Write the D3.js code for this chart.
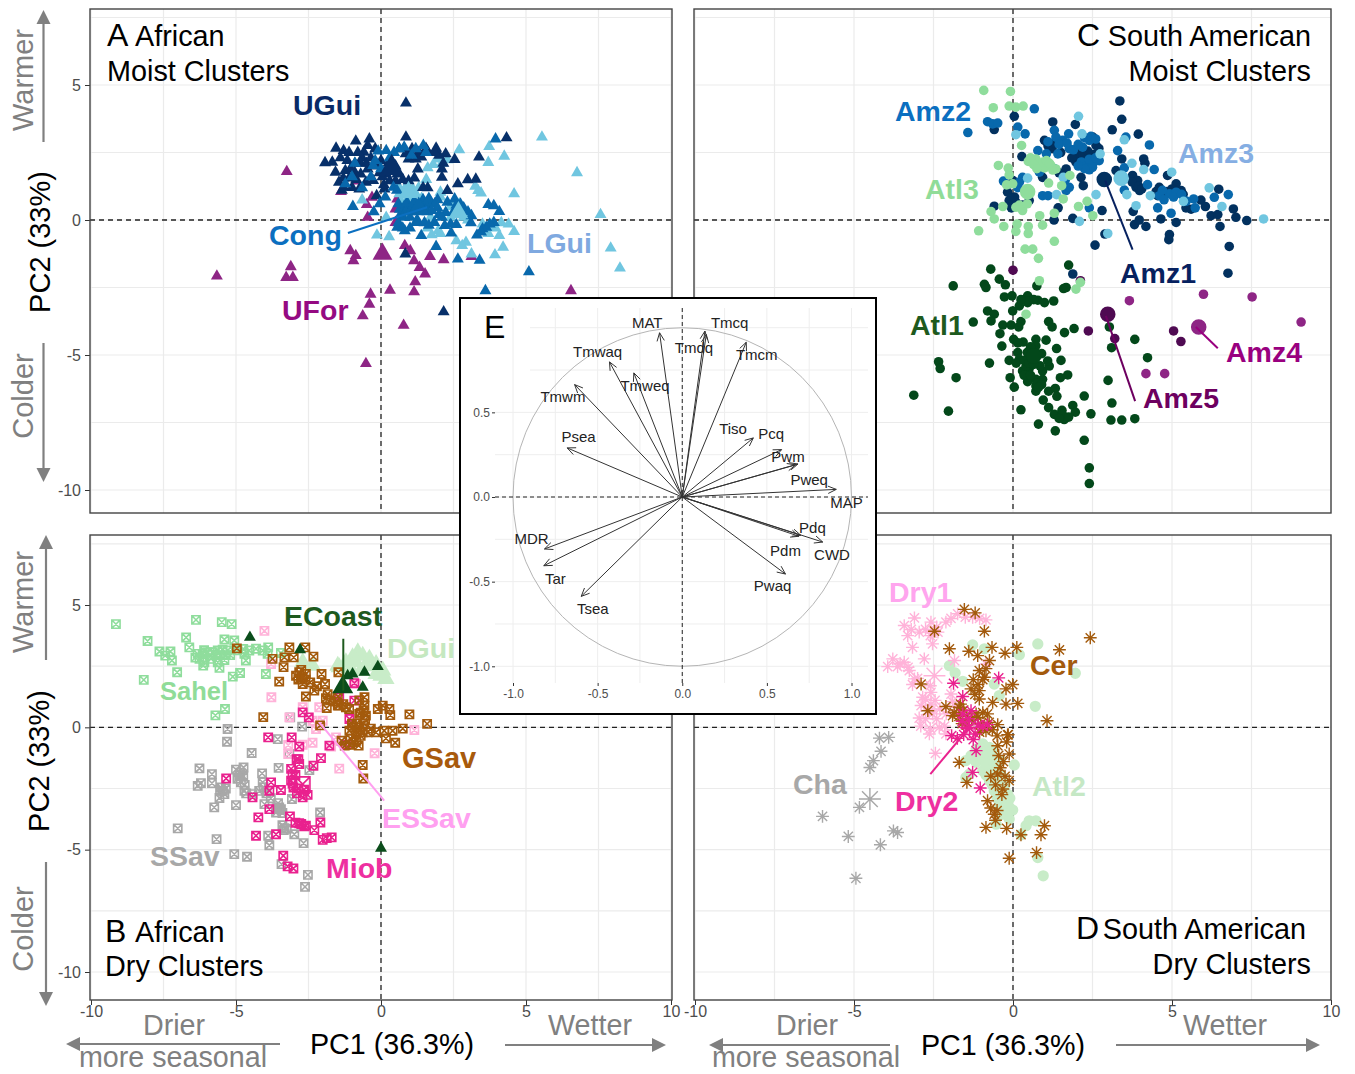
<!DOCTYPE html>
<html>
<head>
<meta charset="utf-8">
<title>PCA climate clusters</title>
<style>
  body { margin: 0; background: #fff; }
  svg { display: block; font-family: "Liberation Sans", Arial, sans-serif; }
  .tick text { fill: #4d4d4d; }
  .tick line { stroke: #333; }
</style>
</head>
<body>
<svg width="1355" height="1074"></svg>
<script src="https://d3js.org/d3.v7.min.js"></script>
<script>

// Panel A - African moist clusters (PC1, PC2)
const uFor = [[-3.25,1.79],[-.84,1.44],[-1.38,1.05],[-.31,.84],[-.49,.57],[-.46,.1],[.56,.78],[.5,.41],[.5,-.09],[1.27,-.09],[-1.06,-1.14],[-.87,-1.32],[-.95,-1.51],[.82,-.95],[1.01,-1.14],[1.14,-1.51],[1.33,-1.76],[1.52,-2],[1.69,-1.35],[2.16,-1.47],[3.12,-1.35],[1.18,-2.29],[1.14,-2.66],[.31,-2.6],[-.36,-2.75],[-.4,-3.12],[-.63,-3.55],[.78,-3.9],[-.52,-5.32],[-3.11,-1.73],[-3.27,-2.13],[-3.04,-2.13],[-5.66,-2.08],[6.55,-2.62]];
const lGui = [[5.55,3.07],[6.76,1.75],[7.57,.2],[7.92,-1.04],[8.24,-1.78],[4.59,.97],[4.25,2.36],[3.73,2.72],[3.7,2.13],[2.7,2.6],[3.35,1.09],[1.97,2.26],[2.29,2.23],[1.61,1.93],[1.56,1.5],[2.05,1.03],[-.14,-.56],[.28,-.62],[-.65,.74],[.18,.1],[4.08,-.58],[4.21,-1.01],[3.93,-1.29],[4.59,-.43],[4.4,-.15],[2.6,-.77],[2.93,-.83],[3.12,-1.26],[1.97,-.4],[1.71,.1],[3.5,-.15],[.95,.84],[1.2,.97],[.63,.97],[.8,1.1],[1.1,1.15],[2.45,.55],[2.85,.1],[3.8,-.2],[2.4,.5],[2.7,.6],[2.9,.3],[3,0],[2.4,.1],[.6,1.25],[.9,1.3],[1.3,1.2],[.7,.7],[1.4,.8],[1.7,.7],[2.05,.85],[1.6,-.3],[1.75,-.55],[2.05,-.5],[3.7,-.5],[3.95,-.3],[4.15,-.1],[2.8,-.95],[3.45,1],[3.25,1.25],[1.8,2.05],[2.1,2.1]];
const uGui = [[.86,4.33],[.86,3.07],[4.33,3.04],[-.87,2.92],[-.4,3],[-1.55,2.66],[-1.29,2.57],[-.46,2.76],[-.59,2.51],[-.2,2.64],[.63,2.64],[1.07,2.64],[1.9,2.66],[2.23,2.45],[2.54,2.24],[3.38,2.33],[-1.93,2.12],[-1.68,2.14],[-1.16,2.2],[-.65,2.3],[.95,2.26],[1.2,2.26],[1.39,2.33],[2.1,1.89],[1.27,1.89],[-1.57,1.77],[-1.23,1.83],[-.91,1.77],[-.46,1.89],[-.27,1.46],[-.52,1.4],[.18,1.7],[.56,1.7],[.75,1.5],[.95,1.45],[.05,1.6],[2.1,1.58],[2.65,1.34],[2.99,1.49],[3.27,1.51],[-1.29,1.21],[-1.35,1.1],[1.61,1.19],[2.29,1.09],[.12,1.15],[-.15,.9],[2.16,-3.4],[.84,-1.26],[-1.4,2.3],[-1.1,2.5],[-.8,2.5],[-.7,2.1],[-.9,2.1],[-1.05,1.9],[-1.3,1.55],[-1.1,1.55],[-.85,1.5],[-.7,1.7],[-.5,2.1],[-.35,2.3],[-.15,2],[0,2.2],[.25,2.1],[.5,2],[.1,1.3],[.3,1.45],[.5,1.45],[-.05,1.75],[1.05,2.45],[1.3,2.5],[1.6,2.55],[2,2.4],[2.15,2.1],[1.85,2.5],[1.45,1.2],[1.55,2.65],[.85,2.45],[1.15,1.55],[-1.45,1.4],[-1,1.2],[-.75,1.15]];
const cong = [[3.95,3],[3.6,-2.62],[5.1,-1.92],[-.1,2.55],[.18,2.57],[-.27,2.02],[-.2,2.2],[.63,2.64],[1.46,2.76],[1.2,2.64],[-.97,.5],[-1.23,1.34],[-.65,1.19],[.43,1.21],[.65,.4],[.8,.5],[.95,.45],[1.1,.55],[1.25,.5],[1.4,.6],[1.55,.55],[1.7,.65],[1.85,.6],[1.95,.45],[.7,.25],[.85,.3],[1,.3],[1.15,.35],[1.3,.3],[1.45,.35],[1.6,.3],[1.75,.35],[.75,.1],[1,.1],[2.54,.78],[2.29,.66],[2.74,.59],[2.23,.28],[3.12,.16],[3.7,.57],[3.89,.53],[4.08,.31],[3.89,-.09],[3.63,-.27],[3.5,-.33],[3.31,-.56],[2.42,-.48],[2.6,-.17],[2.2,-.21],[1.39,-.58],[1.9,-.98],[2.65,-1.45],[3.4,-1.49],[.82,-.4],[.56,-.27],[1.2,-.09],[1.84,-.09],[.6,-.1],[.75,-.3],[1,-.3],[1.25,0],[1.5,-.1],[1.65,-.2],[2,.2],[.6,.6],[.9,.65],[1.15,.7],[1.45,.75],[1.65,.8],[1.95,.75],[2.5,.3],[2.7,.3],[2.85,.45],[3,.3],[2.6,.55],[2.1,.1],[2.4,-.15],[3.1,-.1],[3.75,-.15],[3.45,-.45],[-.05,.6],[-.25,.3],[0,1.9],[.3,2.3],[.45,2.5],[1.05,2.4],[1.55,2.5],[.8,2.7],[-.9,2.1],[-.35,1.6],[-1,1.6],[.15,.85],[.55,1.1]];

// Panel B - African dry clusters
const sahel = [[-9.14,4.22],[-8.05,3.53],[-8.18,1.94],[-6.38,4.39],[-5.49,4.3],[-5.15,4.22],[-6.72,3.67],[-6.61,3.27],[-5.4,3.59],[-5.06,3.55],[-7.64,3.1],[-7.26,3.1],[-7.44,2.93],[-7.21,2.73],[-7.03,2.25],[-6.32,3],[-6.15,3],[-5.98,3.07],[-5.8,3.07],[-5.63,3.14],[-5.46,3.17],[-5.29,3.14],[-6.26,2.8],[-6.09,2.66],[-5.86,2.8],[-5.63,2.66],[-5.57,2.43],[-6.13,2.52],[-4.71,3],[-4.66,2.73],[-4.54,3.14],[-4.31,3.21],[-4.08,3.14],[-3.89,3.27],[-3.91,3],[-3.45,3.04],[-4.86,2.22],[-5.11,2.07],[-3.97,2.18],[-5.38,.75],[-5.71,.49],[-6.1,3.15],[-5.9,2.95],[-5.7,2.95],[-5.55,2.95],[-5.35,2.95],[-5.2,2.95],[-5.4,2.75],[-6.4,2.85],[-4.95,3.15],[-4.75,3.2]];
const dGui = [[-1.44,2.46],[-1.21,2.66],[-.98,2.86],[-.8,3.07],[-.63,2.93],[-.4,2.8],[-.17,2.59],[.06,2.32],[.17,1.98],[-.86,2.66],[-.52,2.5],[-.17,2.18],[-2.7,2.66],[-2.36,2.52],[-1.49,2.52],[0,2.11],[-1.05,2.4],[-.7,2.3]];
const sSav = [[-5.29,-.07],[-5.31,-.59],[-3.13,.41],[-2.72,.03],[-3.56,-.48],[-4.46,-1.05],[-6.26,-1.68],[-5.83,-1.91],[-5.83,-2.28],[-6.21,-2.28],[-6.32,-2.39],[-5,-1.73],[-4.74,-1.64],[-4.89,-1.98],[-4.83,-2.25],[-4.71,-2.59],[-4.1,-1.88],[-3.53,-1.66],[-2.47,-1.75],[-4.08,-2.25],[-5.52,-2.46],[-5.4,-2.73],[-5.57,-2.89],[-5.75,-3.27],[-5,-3.18],[-4.43,-2.73],[-4.02,-3.14],[-3.07,-2.93],[-3.51,-3.27],[-3.62,-3.48],[-3.33,-4.12],[-7.01,-4.13],[-5.67,-4.57],[-5.06,-5.18],[-4.62,-5.29],[-3.89,-4.43],[-3.85,-4.82],[-2.99,-4.37],[-2.67,-4.73],[-2.1,-3.48],[-3.43,-5.59],[-2.52,-6.03],[-2.62,-6.52],[-3.16,-1.09],[-4.85,-1.85],[-4.75,-2],[-4.95,-2.1],[-4.7,-2.35],[-4.65,-2.7],[-5.45,-2.6],[-5.35,-2.5],[-5.55,-2.6],[-3.55,-3.1],[-3.45,-3.35],[-3.4,-3.5],[-3.6,-3.3],[-3.4,-4],[-3.25,-4.15],[-3.35,-4.2],[-4.05,-2.45],[-3.95,-2.7],[-4.2,-2.6],[-3.8,-2.9]];
const eSSav = [[-4.02,3.94],[-3.79,2.59],[-3.78,1.23],[-2.7,.82],[-2.13,.82],[-2.01,.27],[-2.36,.27],[-3.16,.41],[-2.24,-.07],[-1.55,-.41],[-2.36,-.63],[-2.7,-.71],[-3.2,-.72],[-1.72,-.79],[1.15,-.11],[-.22,-1.06],[-1.44,-1.69],[-.86,1.77],[-3.2,-1.09]];
const miob = [[-3.89,-.41],[-3.08,-.41],[-2.7,.61],[-2.49,.41],[-1.09,.34],[-.92,1.09],[-.92,1.81],[-1.44,1.23],[-2.82,-.79],[-1.21,-.71],[-1.78,-.75],[-2.07,-1.26],[-2.33,-1.57],[-2.91,-1.3],[-2.82,-1.5],[-3.05,-1.91],[-3.1,-2.18],[-3.02,-2.46],[-3.45,-2.56],[-5.34,-2.09],[-3.79,-2.25],[-3.85,-2.59],[-4.43,-2.86],[-2.53,-2.76],[-2.7,-2.86],[-3.85,-3.34],[-3.14,-3.64],[-4.23,-3.68],[-2.82,-3.92],[-2.59,-4.02],[-2.3,-4.2],[-2.09,-3.89],[-4.31,-4.43],[-3.62,-4.37],[-2.01,-4.6],[-1.87,-4.53],[-1.7,-4.5],[-3.37,-5.25],[-3.22,-5.68],[-3.02,-5.77],[-3.1,-1.7],[-2.95,-1.95],[-3.05,-2.3],[-2.85,-2.5],[-2.9,-2.7],[-2.65,-2.55],[-2.85,-1.3],[-2.75,-3.95],[-2.95,-3.9],[-2.65,-4.05]];
const gSav = [[-4.97,3.23],[-3.16,3.27],[-2.61,3.27],[-3.74,2.8],[-3.33,2.86],[-3.01,2.86],[-2.33,2.89],[-3.36,2.46],[-3.51,1.87],[-2.82,2.25],[-2.93,2.11],[-2.76,1.98],[-2.59,2.18],[-2.7,1.77],[-2.05,2.18],[-1.47,2.25],[-2.44,1.84],[-2.21,1.68],[-1.93,1.77],[-2.59,1.26],[-1.84,1.36],[-1.9,1.19],[-1.87,.79],[-1.49,.89],[-1.49,1.26],[-1.21,.82],[-4.06,.42],[-.57,1.23],[-.57,.89],[-.52,.48],[-.75,.55],[.06,.89],[-.11,.75],[.29,.75],[.32,.5],[.98,.53],[1.59,.14],[.75,-.05],[.4,-.14],[.11,-.14],[-.17,-.2],[-.46,-.2],[-.98,0],[-.75,0],[-1.09,-.14],[-.86,-.27],[-.63,-.2],[.17,-.45],[.49,-.63],[-1.36,-.55],[-1.09,-.71],[-.77,-.75],[-.63,-1.54],[-.61,-2.09],[-2.1,.08],[-2.85,1.95],[-2.7,2.05],[-2.6,1.95],[-2.75,2.35],[-.75,1.1],[-.6,.7],[-.7,.6],[-.55,.3],[-.85,.15],[-.6,.15],[-1,.15],[-.7,-.35],[-.85,-.55],[-.95,-.6],[-1.25,-.75],[-1.05,-.45],[-.75,-.1],[-.35,-.05],[-1.45,.9],[-1.55,1.05],[-1.75,1.1],[-1.3,.95],[-1.1,.75],[-2.3,1.5]];
const eCoast = [[-4.52,3.68],[-2.79,3.17],[-.98,2.18],[-.57,2.25],[-.63,1.64],[-.11,2.48],[0,-4.94],[-1.15,2.11]];

// Panel C - South American moist clusters
const atl1 = [[-.7,-1.82],[-1.88,-2.44],[-.9,-2.38],[-.85,-2.5],[-.43,-2.19],[-.24,-2.4],[1.75,-1.67],[.75,-2.44],[1.59,-2.54],[1.67,-2.5],[-.27,-2.85],[-.03,-2.81],[-.01,-3.37],[.46,-2.81],[.2,-3.18],[.46,-3.06],[.78,-2.97],[.99,-3.06],[1.28,-3],[-.8,-3.37],[-.59,-3.49],[-.69,-3.74],[-1.25,-3.78],[-.32,-3.89],[-.06,-3.89],[.25,-3.76],[.18,-3.96],[1.12,-3.76],[1.23,-3.96],[1.62,-4.17],[1.92,-4.02],[3.03,-3.96],[-.41,-4.21],[-.35,-4.67],[.02,-4.42],[.32,-4.52],[.72,-4.42],[1.04,-4.45],[.72,-4.66],[1.37,-4.76],[3.1,-4.73],[3.83,-4.42],[4.23,-5.1],[1.51,-5.2],[.15,-4.91],[.2,-5.16],[-.12,-5.2],[-.74,-5.3],[-2.34,-5.25],[-2.29,-5.5],[-1.79,-5.84],[-3.12,-6.49],[-2.03,-7.08],[-.09,-5.84],[.3,-5.59],[.51,-5.5],[.93,-5.59],[1.14,-5.41],[1.09,-5.22],[1.72,-5.74],[1.49,-5.84],[.46,-5.99],[.72,-5.9],[.93,-5.9],[.04,-6.19],[.72,-6.34],[1.12,-6.34],[1.33,-6.24],[1.38,-6.53],[.95,-6.67],[2.24,-6.52],[2.99,-5.94],[3.11,-6.78],[.25,-7.03],[1.12,-6.95],[1.3,-7.2],[1.54,-7.05],[1.88,-6.87],[1.96,-7.12],[2.45,-7.18],[1.61,-7.39],[3.08,-7.41],[3.42,-7.41],[3.83,-7.36],[.8,-7.56],[1.33,-7.81],[2.24,-8.16],[2.4,-9.18],[2.4,-9.76],[.72,-6.15],[.41,-5.41],[.85,-6.05],[.1,-5.3],[.35,-5.2],[.5,-5.3],[.85,-5.4],[.35,-5.75],[.55,-5.75],[.75,-6.05],[.9,-6.1],[.15,-4.55],[.55,-4.7],[.45,-4.9],[.75,-5],[.9,-4.95],[.65,-5.35],[.8,-6.2],[1.55,-7.2],[1.45,-7.35],[1.75,-7.3],[.45,-3],[.25,-2.95],[.65,-2.95]];
const amz5 = [[0,-1.86],[2.12,-2.25],[2.37,-4.11],[5.05,-4.11],[5.28,-4.5],[3.2,-4.39]];
const amz4 = [[3.66,-2.99],[5.99,-2.75],[7.52,-2.85],[9.06,-3.78],[4.18,-5.69],[4.77,-5.69]];
const amz1 = [[3.36,4.41],[3.42,3.73],[1.96,3.54],[1.25,3.63],[.04,3.84],[-.59,3.35],[3.12,3.34],[3.94,3.18],[.99,2.95],[1.23,2.64],[2.51,3.07],[2.61,2.76],[2.56,2.43],[2.03,2.45],[1.98,2.14],[.28,2.35],[3.42,2.26],[4.11,2.26],[4.15,2.1],[1.67,1.89],[2.14,1.58],[2.21,1.27],[3.24,1.83],[3.76,1.65],[3.92,1.46],[3.87,1.21],[3.98,1.09],[4.6,1.21],[4.86,1.65],[5.13,1.34],[5.29,1.09],[5.91,.74],[6.47,1.14],[5.44,.45],[6.23,.16],[6.44,.2],[6.93,.41],[7.01,.1],[7.35,-.02],[6.51,-.24],[6.8,-.98],[6.76,-1.97],[2.58,-.93],[2.89,-.52],[2.8,.35],[1.88,.06],[1.29,0],[1.42,.45],[3.82,-.17],[3.97,0],[4.18,-.24],[4.65,.04],[5.13,-.09],[4.92,-.54],[4.9,-.73],[3.78,.32],[-.59,.51],[-.12,.72],[.09,.66],[.51,.72],[0,1.46],[-.17,1.03],[.93,1.58],[1.88,-2],[1.1,2.75],[1.3,2.85],[1.5,2.5],[1.85,2.3],[2.2,2.4],[2.35,2.55],[2.7,2.65],[4.85,1.05],[4.5,1.05],[4.7,.95],[5,1.15],[5.35,.95],[3.75,1.4],[3.95,1.25],[4.05,1.15],[5.6,.4],[6.05,.5],[-.05,.45],[.05,.85],[.3,.55],[4.55,.9],[1.7,1.7],[1.45,1.75]];
const amz2 = [[.67,4.12],[-1.42,3.24],[-.8,3.64],[-.64,3.56],[-.48,3.59],[.15,3.44],[.38,3.19],[.78,2.57],[1.3,3.32],[1.35,3.07],[1.75,3.19],[1.56,2.95],[1.77,2.64],[1.41,2.45],[2.4,2.95],[2.19,2.7],[2.3,2.08],[2.51,2.08],[2.4,1.86],[2.71,2.2],[3.29,2.57],[3.55,3.07],[4.29,2.78],[4.44,1.87],[3.5,1.93],[4.23,1.31],[3.5,1.11],[4.6,.9],[4.92,.97],[5.13,1.03],[4.55,.45],[4.97,.25],[5.68,.78],[5.73,.45],[6.33,.84],[6.77,.94],[2.4,.45],[.93,.9],[-.3,1.44],[.3,1.58],[.2,1.4],[.83,1.77],[1.67,1.09],[1.77,1.21],[1.1,2.9],[1.45,2.8],[1.7,2.85],[1.9,2.6],[2.05,2.8],[2.25,3.05],[2.45,3.1],[2.6,3],[2.15,2.15],[2.5,1.95],[2.25,1.9],[2.4,2.25],[2.6,2.3],[2.05,2],[1.05,2.45],[1.3,1.9],[1.1,.9],[1.65,1.5],[4.75,.75],[5.05,.85],[5.3,.95],[4.7,1.1],[5.45,.7],[.15,1.2]];
const amz3 = [[2.06,3.84],[2.17,3.19],[.09,3.16],[3.5,2.97],[2.74,2.45],[3.74,2.1],[4.11,1.87],[4.99,1.77],[4.32,.9],[3.58,.94],[2.61,.94],[3.87,.53],[5.36,.69],[6.17,1.19],[6.57,.5],[7.88,.04],[2.98,-.5],[2.09,-.05],[.46,1.55],[1.37,.94],[1.58,1.58]];
const atl3 = [[-.92,4.8],[-.08,4.76],[-.62,4.16],[-.12,4.22],[.09,4.18],[.32,4.22],[.27,2.76],[-.46,2.02],[-.15,1.92],[-.12,1.67],[.48,2.17],[.72,2.26],[.88,2.08],[1.19,2.02],[1.35,1.89],[.99,1.93],[1.79,1.65],[1.12,1.37],[1.53,1.27],[-.01,1.34],[1.58,.78],[-.32,.5],[-.69,.31],[-.59,.04],[-.29,-.24],[-1.08,-.4],[.13,-.15],[.09,-.42],[.48,-.24],[.48,-.5],[.3,.41],[.09,.47],[.84,.16],[.93,-.19],[1.3,.25],[2.06,.5],[2.33,.69],[2.51,.16],[1.3,-.79],[.38,-1.08],[.62,-1.08],[.8,-1.42],[.83,-2.25],[2.12,-2.31],[1.98,-2.56],[.41,-3.49],[.55,2.3],[.65,2.05],[.75,1.9],[.95,2.15],[1.05,2.2],[1.25,1.85],[1.15,2.1],[.3,.35],[.2,.55],[.45,.6],[-.2,1.3]];

// Panel D - South American dry clusters
const atl2 = [[-1.27,3.37],[-.9,3.21],[.78,3.41],[.2,2.97],[1.96,2.21],[-2,2.52],[-1.82,2.22],[-1.58,1.88],[-.59,1.77],[-.43,1.3],[.7,.86],[.04,-1.54],[-1.48,-1.36],[-1.32,-1.16],[-1.16,-.89],[-.95,-.68],[-.74,-.82],[-1.16,-1.43],[-.95,-1.36],[-.74,-1.23],[-.59,-1.09],[-.95,-1.77],[-.74,-1.7],[-.53,-1.57],[-.74,-2.18],[-.53,-2.18],[-.32,-2.05],[-.59,-2.59],[-.38,-2.73],[-.17,-2.73],[-.43,-3.14],[-.17,-3.07],[-.01,-3.38],[-.32,-3.55],[-.53,-3.96],[-.12,-3.75],[.51,-3.82],[.41,-4.02],[.72,-3.82],[.25,-4.39],[.78,-5.32],[.95,-6.07],[-1.48,-2.05],[-1.37,-1.91],[-1.2,-1.15],[-1,-1],[-.85,-1],[-.65,-.95],[-.85,-1.5],[-.6,-1.45],[-.4,-1.35],[-.85,-1.95],[-.6,-1.95],[-.4,-1.9],[-.65,-2.35],[-.45,-2.4],[-.25,-2.35],[-.5,-2.9],[-.3,-2.9],[-.1,-2.9],[-.35,-3.3],[-.1,-3.3],[-.45,-3.6],[-.2,-3.55]];
const cha = [[-4.2,-.44],[-3.91,-.41],[-4.15,-.98],[-4.39,-1.36],[-4.5,-1.64],[-4.83,-3.27],[-5.99,-3.64],[-5.18,-4.46],[-4.17,-4.8],[-3.76,-4.23],[-3.63,-4.3],[-4.94,-6.17]];
const dry1 = [[-3.1,4.47],[-3.42,4.16],[-3.31,3.75],[-2.95,3.89],[-2.58,4.3],[-2.36,3.89],[-2.53,3.41],[-3.16,3.27],[-2.79,2.8],[-2.11,4.3],[-1.74,4.64],[-1.27,4.5],[-.85,4.39],[-1.84,2.73],[-3.94,2.48],[-3.78,2.8],[-3.63,2.48],[-3.42,2.66],[-3.26,2.32],[-3.1,1.98],[-3.16,1.75],[-2.58,1.43],[-2.84,1.23],[-2.89,.89],[-2.95,.38],[-2.58,.95],[-2.53,.55],[-2.63,-.27],[-2.32,0],[-2.44,-1.06],[-2.11,-.27],[-1.95,1.36],[-.85,2.59],[-1.79,.82],[-3.55,2.6],[-3.3,2.45],[-3,2],[-2.6,1.7],[-2.75,1.15],[-2.65,.7],[-2.45,1.1],[-2.3,.75],[-2.1,.55],[-2.75,.35],[-2.4,.35],[-2.6,-.05],[-2.15,.05],[-2.9,.05],[-3.2,4],[-2.75,4],[-2.55,3.85],[-1.95,4.45],[-1.5,4.5],[-1.05,4.45],[-2.6,3.75],[-2.4,4.1],[-1.9,1.05]];
const cer = [[-1.53,4.82],[-1.19,4.68],[-.9,3.93],[-2.47,3.93],[-2,3.21],[-.66,3.27],[.12,3.27],[-1.39,3.11],[-1.11,2.93],[-.25,3.03],[1.46,3.17],[2.43,3.66],[-.74,2.73],[-1.06,2.32],[-.9,2.05],[-.01,1.75],[-.22,1.57],[-2.89,1.77],[-1.32,1.57],[-1.06,1.5],[-1.06,1.16],[-.64,1.02],[-.22,.95],[.15,.98],[-1.69,.82],[-2.11,.85],[-2.68,.68],[-1.9,.48],[-1.58,.27],[-1.16,.55],[-1.01,.14],[-.48,.11],[-.85,-.14],[-.17,-.31],[1.07,.27],[-.48,-.75],[-.12,-1.09],[-1.69,-1.43],[-.48,-1.91],[-.12,-2.18],[-1.45,-2.25],[-.32,-2.52],[-.8,-3],[-.59,-3.55],[-.85,-4.09],[-.2,-4.13],[.99,-4.02],[.88,-4.39],[.74,-5.12],[-.12,-5.35],[.25,-4.39],[-1.65,.95],[-1.55,.7],[-1.85,.6],[-1.7,.45],[-1.45,.45],[-1.3,.3],[-1.45,.1],[-1.6,.15],[-1.1,.4],[-.95,.6],[-.8,.55],[-.75,.2],[-.65,-.1],[-1.05,-.2],[-1.2,1.35],[-1.1,1.75],[-1.25,1.95],[-.85,2.4],[-.95,1.95],[-.5,-.35],[-.2,-.6],[-.45,-1.15],[-.3,-1.4],[-.4,-1.65],[-.7,-2],[-.25,-2],[-.55,-2.35],[-.35,-2.75],[-.7,-3.3],[-.5,-3.4],[-.55,-3.8],[-.15,-.3]];
const dry2 = [[-1.87,1.8],[-.45,2.02],[-1.58,1.26],[-1.32,.68],[-1.58,.55],[-.8,.11],[-1.93,-.34],[-1.19,-.27],[-1.16,-.95],[-1.03,-2.48],[-1.27,-1.84],[-1.6,.25],[-1.4,.35],[-1.1,.1],[-.95,.05],[-1.45,-.05],[-1.55,-.3],[-1.75,-.45],[-1.25,-.5]];

// cluster means, drawn larger on top of each cloud
const uGuiMean = [[.37,1.93]], uForMean = [[.05,-1.26]], lGuiMean = [[.95,1.03],[2.67,.28]], congMean = [[1.3,.45]];
const amz1Mean = [[2.87,1.5]], amz3Mean = [[3.4,1.55]], atl3Mean = [[.46,1.05]], atl1Mean = [[.65,-5.04]], amz4Mean = [[5.84,-3.96]], amz5Mean = [[2.98,-3.49]];
const eCoastMean = [[-1.32,1.64]], miobMean = [[-2.7,-2.32]];
const chaMean = [[-4.5,-2.93]], dry1Mean = [[-2.47,2.11]], dry2Mean = [[-1.37,0]];

// Panel E - loadings
const varNames = ['MAT','Tmcq','Tmdq','Tmcm','Tmwaq','Tmweq','Tmwm','Psea','Tiso','Pcq','Pwm','Pweq','MAP','Pdq','Pdm','CWD','Pwaq','Tsea','Tar','MDR'];
const varPc1 = [-.134,.134,.142,.378,-.43,-.286,-.636,-.68,.42,.587,.684,.67,.91,.70,.69,.83,.61,-.597,-.818,-.814];
const varPc2 = [.97,.98,.96,.914,.798,.733,.664,.29,.349,.28,.195,.19,.045,-.226,-.232,-.266,-.455,-.587,-.406,-.307];
const varLabelX = [-.207,.28,.069,.44,-.5,-.22,-.705,-.613,.3,.526,.625,.75,.97,.769,.61,.885,.534,-.528,-.75,-.89];
const varLabelY = [1.028,1.028,.88,.84,.856,.658,.59,.353,.403,.372,.236,.102,-.032,-.183,-.315,-.34,-.525,-.66,-.483,-.246];

const xTicks = [-10, -5, 0, 5, 10];
const yTicks = [-10, -5, 0, 5];
const gridSteps = [-10, -7.5, -5, -2.5, 0, 2.5, 5, 7.5, 10];
const insetXTicks = [-1, -0.5, 0, 0.5, 1];
const insetYTicks = [-1, -0.5, 0, 0.5];
const insetGrid = [-1, -0.75, -0.5, -0.25, 0, 0.25, 0.5, 0.75, 1];

var svg = d3.select('svg');

// pch 7 (square with a cross) and pch 8 (star) from R
var squareX = {
    draw(ctx, size) {
        var h = Math.sqrt(size) / 2;
        ctx.moveTo(-h, -h); ctx.lineTo(h, -h); ctx.lineTo(h, h); ctx.lineTo(-h, h); ctx.closePath();
        ctx.moveTo(-h, -h); ctx.lineTo(h, h);
        ctx.moveTo(h, -h); ctx.lineTo(-h, h);
    }
};
var star = {
    draw(ctx, size) {
        var h = Math.sqrt(size) / 2, d = h * 0.72;
        ctx.moveTo(-h, 0); ctx.lineTo(h, 0);
        ctx.moveTo(0, -h); ctx.lineTo(0, h);
        ctx.moveTo(-d, -d); ctx.lineTo(d, d);
        ctx.moveTo(d, -d); ctx.lineTo(-d, d);
    }
};

function addPoints(g, data, p, type, size, color, sw) {
    var path = d3.symbol().type(type).size(size)();
    g.selectAll(null)
        .data(data)
        .enter().append('path')
        .attr('d', path)
        .attr('transform', d => `translate(${p.x(d[0])},${p.y(d[1])})`)
        .attr('fill', sw ? 'none' : color)
        .attr('stroke', sw ? color : 'none')
        .attr('stroke-width', sw || 0);
}

// frame, grid and zero lines for one scatter panel
function addPanel(left, right, top, bottom, xr, yr, showX, showY) {
    var x = d3.scaleLinear().domain([-10, 10]).range(xr);
    var y = d3.scaleLinear().domain([-10, 5]).range(yr);
    var g = svg.append('g');

    g.selectAll('.gv').data(gridSteps).enter().append('line')
        .attr('x1', d => x(d)).attr('x2', d => x(d)).attr('y1', top).attr('y2', bottom)
        .attr('stroke', '#ebebeb').attr('stroke-width', 1.2);
    g.selectAll('.gh').data(gridSteps.filter(d => y(d) > top && y(d) < bottom)).enter().append('line')
        .attr('x1', left).attr('x2', right).attr('y1', d => y(d)).attr('y2', d => y(d))
        .attr('stroke', '#ebebeb').attr('stroke-width', 1.2);
    g.append('line').attr('x1', x(0)).attr('x2', x(0)).attr('y1', top).attr('y2', bottom)
        .attr('stroke', '#222').attr('stroke-width', 1.3).attr('stroke-dasharray', '5 4');
    g.append('line').attr('x1', left).attr('x2', right).attr('y1', y(0)).attr('y2', y(0))
        .attr('stroke', '#222').attr('stroke-width', 1.3).attr('stroke-dasharray', '5 4');

    if (showX) {
        var ax = g.append('g').attr('transform', `translate(0,${bottom})`)
            .call(d3.axisBottom(x).tickValues(xTicks).tickFormat(d => String(d)).tickSize(5).tickPadding(1));
        ax.select('.domain').remove();
        ax.selectAll('text').attr('font-size', 16).attr('font-family', 'Liberation Sans');
    }
    if (showY) {
        var ay = g.append('g').attr('transform', `translate(${left},0)`)
            .call(d3.axisLeft(y).tickValues(yTicks).tickFormat(d => String(d)).tickSize(5).tickPadding(4));
        ay.select('.domain').remove();
        ay.selectAll('text').attr('font-size', 16).attr('font-family', 'Liberation Sans');
    }
    return {x: x, y: y, g: g, frame: () => g.append('rect')
        .attr('x', left).attr('y', top).attr('width', right - left).attr('height', bottom - top)
        .attr('fill', 'none').attr('stroke', '#444').attr('stroke-width', 1.4)};
}

function leader(p, a, b, color) {
    p.g.append('line')
        .attr('x1', p.x(a[0])).attr('y1', p.y(a[1]))
        .attr('x2', p.x(b[0])).attr('y2', p.y(b[1]))
        .attr('stroke', color).attr('stroke-width', 2);
}

function label(txt, x, y, color, opts) {
    opts = opts || {};
    svg.append('text').attr('x', x).attr('y', y).text(txt)
        .attr('fill', color)
        .attr('font-size', opts.size || 28.5)
        .attr('font-weight', opts.bold === false ? 'normal' : 'bold')
        .attr('text-anchor', opts.anchor || 'start');
}

function vertLabel(txt, x, y, color) {
    svg.append('text').attr('transform', `translate(${x},${y}) rotate(-90)`).text(txt)
        .attr('fill', color).attr('font-size', 29).attr('text-anchor', 'middle');
}

function greyArrow(x1, y1, x2, y2) {
    var a = Math.atan2(y2 - y1, x2 - x1), len = 14, w = 7;
    svg.append('line').attr('x1', x1).attr('y1', y1)
        .attr('x2', x2 - Math.cos(a) * len).attr('y2', y2 - Math.sin(a) * len)
        .attr('stroke', '#808080').attr('stroke-width', 2.2);
    var bx = x2 - Math.cos(a) * len, by = y2 - Math.sin(a) * len;
    svg.append('path').attr('fill', '#808080')
        .attr('d', `M${x2},${y2}L${bx - Math.sin(a) * w},${by + Math.cos(a) * w}L${bx + Math.sin(a) * w},${by - Math.cos(a) * w}Z`);
}

var tri = d3.symbolTriangle, circ = d3.symbolCircle;

// A
var pA = addPanel(90, 672, 9, 513, [91, 671], [490, 85], false, true);
addPoints(pA.g, uFor, pA, tri, 62, '#8e2585');
addPoints(pA.g, lGui, pA, tri, 62, '#70c6e0');
addPoints(pA.g, uGui, pA, tri, 62, '#07306a');
addPoints(pA.g, cong, pA, tri, 62, '#0868ac');
addPoints(pA.g, uForMean, pA, tri, 170, '#8e2585');
addPoints(pA.g, uGuiMean, pA, tri, 260, '#07306a');
addPoints(pA.g, lGuiMean, pA, tri, 170, '#70c6e0');
addPoints(pA.g, congMean, pA, tri, 170, '#0868ac');
leader(pA, [-1.14, -.48], [1.59, .47], '#0b6fc0');
pA.frame();

// C
var pC = addPanel(694, 1331, 9, 513, [695, 1331], [490, 85], false, false);
addPoints(pC.g, atl1, pC, circ, 72, '#03481a');
addPoints(pC.g, amz5, pC, circ, 72, '#4f0a52');
addPoints(pC.g, amz4, pC, circ, 72, '#8e2585');
addPoints(pC.g, amz1, pC, circ, 72, '#02315f');
addPoints(pC.g, amz2, pC, circ, 72, '#0868ac');
addPoints(pC.g, amz3, pC, circ, 72, '#70c6e0');
addPoints(pC.g, atl3, pC, circ, 72, '#8fdd9c');
addPoints(pC.g, atl1Mean, pC, circ, 190, '#03481a');
addPoints(pC.g, amz1Mean, pC, circ, 190, '#02315f');
addPoints(pC.g, amz3Mean, pC, circ, 190, '#70c6e0');
addPoints(pC.g, atl3Mean, pC, circ, 190, '#8fdd9c');
addPoints(pC.g, amz4Mean, pC, circ, 190, '#8e2585');
addPoints(pC.g, amz5Mean, pC, circ, 190, '#4f0a52');
leader(pC, [2.9, 1.46], [3.76, -1.1], '#06215f');
leader(pC, [5.75, -3.96], [6.44, -4.75], '#99007f');
leader(pC, [2.92, -3.55], [3.84, -6.71], '#6d0060');
pC.frame();

// B
var pB = addPanel(90, 672, 535, 1000, [91, 671], [972, 605], true, true);
addPoints(pB.g, sahel, pB, squareX, 68, '#8fdd9c', 1.6);
addPoints(pB.g, dGui, pB, tri, 130, '#c8ecc8');
addPoints(pB.g, sSav, pB, squareX, 68, '#a8a8a8', 1.6);
addPoints(pB.g, eSSav, pB, squareX, 68, '#ffb3d9', 1.6);
addPoints(pB.g, miob, pB, squareX, 68, '#e9218e', 1.6);
addPoints(pB.g, gSav, pB, squareX, 68, '#a35a0c', 1.6);
addPoints(pB.g, miobMean, pB, squareX, 210, '#e9218e', 1.6);
addPoints(pB.g, eCoast, pB, tri, 62, '#0b4d1b');
addPoints(pB.g, eCoastMean, pB, tri, 190, '#0b4d1b');
leader(pB, [-1.3, 3.62], [-1.3, 1.5], '#1e5a1e');
leader(pB, [-2.13, .2], [.11, -3], '#ff9ff0');
pB.frame();

// D
var pD = addPanel(694, 1331, 535, 1000, [695, 1331], [972, 605], true, false);
addPoints(pD.g, atl2, pD, circ, 100, '#c8ecc8');
addPoints(pD.g, cha, pD, star, 165, '#a8a8a8', 1.4);
addPoints(pD.g, dry1, pD, star, 165, '#ffb3d9', 1.4);
addPoints(pD.g, cer, pD, star, 165, '#a35a0c', 1.4);
addPoints(pD.g, dry2, pD, star, 165, '#e9218e', 1.4);
addPoints(pD.g, chaMean, pD, star, 480, '#a8a8a8', 1.4);
addPoints(pD.g, dry1Mean, pD, star, 480, '#ffb3d9', 1.4);
addPoints(pD.g, dry2Mean, pD, star, 480, '#e9218e', 1.4);
leader(pD, [-2.6, -1.91], [-1.37, 0], '#e9218e');
pD.frame();

// cluster names
var blk = '#000';
label('UGui', 293, 115, '#0a2a66');
label('Cong', 269, 245, '#0b6fc0');
label('LGui', 527, 253, '#7fa9e0');
label('UFor', 282, 320, '#950a82');
label('Amz2', 895, 121, '#0b6fc0');
label('Amz3', 1178, 163, '#85aee3');
label('Atl3', 925, 199, '#90dc98');
label('Amz1', 1120, 283, '#06215f');
label('Atl1', 910, 335, '#1e5a1e');
label('Amz4', 1226, 362, '#99007f');
label('Amz5', 1143, 408, '#6d0060');
label('ECoast', 284, 626, '#1e5a1e');
label('DGui', 387, 658, '#c5e8c0');
label('Sahel', 160, 700, '#90dc98', {size: 25.5});
label('GSav', 402, 768, '#a85a0c', {size: 29});
label('ESSav', 382, 828, '#ffa0f0');
label('SSav', 150, 866, '#a8a8a8');
label('Miob', 326, 878, '#ee2fa0');
label('Dry1', 889, 602, '#ffa5ee');
label('Cer', 1030, 675, '#a35a0c');
label('Atl2', 1032, 796, '#c5e8c5');
label('Cha', 793, 794, '#a8a8a8');
label('Dry2', 895, 811, '#ee2fa0');

// panel titles
var reg = {bold: false, size: 28.8}, regEnd = {bold: false, size: 28.8, anchor: 'end'}, big = {bold: false, size: 32};
label('A', 107, 46, blk, big);
label('African', 135, 46, blk, reg);
label('Moist Clusters', 107, 81, blk, reg);
label('C', 1077, 46, blk, big);
label('South American', 1311, 46, blk, regEnd);
label('Moist Clusters', 1311, 81, blk, regEnd);
label('B', 105, 942, blk, big);
label('African', 135, 942, blk, reg);
label('Dry Clusters', 105, 976, blk, reg);
label('D', 1076, 939, blk, big);
label('South American', 1306, 939, blk, regEnd);
label('Dry Clusters', 1311, 974, blk, regEnd);

// axis titles and the direction arrows
var grey = '#808080';
vertLabel('PC2 (33%)', 50, 242, blk);
vertLabel('Warmer', 33, 80, grey);
vertLabel('Colder', 33, 396, grey);
greyArrow(43.5, 142, 43.5, 10);
greyArrow(43.5, 343, 43.5, 482);
vertLabel('PC2 (33%)', 49, 761, blk);
vertLabel('Warmer', 33, 602, grey);
vertLabel('Colder', 33, 929, grey);
greyArrow(46, 660, 46, 535);
greyArrow(46, 862, 46, 1006);

var reg2 = {bold: false, size: 28.7, anchor: 'middle'};
label('Drier', 174, 1035, grey, reg2);
label('more seasonal', 173, 1067, grey, reg2);
label('PC1 (36.3%)', 392, 1054, blk, reg2);
label('Wetter', 590, 1035, grey, reg2);
greyArrow(280, 1044, 66, 1044);
greyArrow(505, 1045, 666, 1045);
label('Drier', 807, 1035, grey, reg2);
label('more seasonal', 806, 1067, grey, reg2);
label('PC1 (36.3%)', 1003, 1055, blk, reg2);
label('Wetter', 1225, 1035, grey, reg2);
greyArrow(890, 1045, 709, 1045);
greyArrow(1116, 1045, 1320, 1045);

// E - inset with the loadings
var inset = svg.append('g');
inset.append('rect').attr('x', 460).attr('y', 298).attr('width', 416).attr('height', 416)
    .attr('fill', '#fff').attr('stroke', '#000').attr('stroke-width', 2);

var ex = d3.scaleLinear().domain([-1, 1]).range([513, 851.5]);
var ey = d3.scaleLinear().domain([-1, 1]).range([666.3, 327.7]);
var exRange = [495, 868], eyRange = [308, 683];

inset.selectAll('.gv').data(insetGrid).enter().append('line')
    .attr('x1', d => ex(d)).attr('x2', d => ex(d)).attr('y1', eyRange[0]).attr('y2', eyRange[1])
    .attr('stroke', '#eeeeee');
inset.selectAll('.gh').data(insetGrid).enter().append('line')
    .attr('x1', d => d > 0.6 ? 530 : exRange[0]).attr('x2', exRange[1]).attr('y1', d => ey(d)).attr('y2', d => ey(d))
    .attr('stroke', '#eeeeee');
inset.append('circle').attr('cx', ex(0)).attr('cy', ey(0)).attr('r', ex(1) - ex(0))
    .attr('fill', 'none').attr('stroke', '#b5b5b5').attr('stroke-width', 1);
inset.append('line').attr('x1', ex(0)).attr('x2', ex(0)).attr('y1', eyRange[0]).attr('y2', eyRange[1])
    .attr('stroke', '#222').attr('stroke-dasharray', '4 3');
inset.append('line').attr('x1', exRange[0]).attr('x2', exRange[1]).attr('y1', ey(0)).attr('y2', ey(0))
    .attr('stroke', '#222').attr('stroke-dasharray', '4 3');

var eax = inset.append('g').attr('transform', `translate(0,${eyRange[1]})`)
    .call(d3.axisBottom(ex).tickValues(insetXTicks).tickFormat(d => d.toFixed(1)).tickSize(3).tickPadding(3));
eax.select('.domain').remove();
eax.selectAll('text').attr('font-size', 12).attr('font-family', 'Liberation Sans');
var eay = inset.append('g').attr('transform', `translate(${exRange[0]},0)`)
    .call(d3.axisLeft(ey).tickValues(insetYTicks).tickFormat(d => d.toFixed(1)).tickSize(3).tickPadding(2));
eay.select('.domain').remove();
eay.selectAll('text').attr('font-size', 12).attr('font-family', 'Liberation Sans');

// arrows: shaft plus an open v head
var idx = d3.range(varNames.length);
inset.selectAll('.arrow').data(idx).enter().append('path')
    .attr('fill', 'none').attr('stroke', '#333').attr('stroke-width', 1)
    .attr('d', i => {
        var x0 = ex(0), y0 = ey(0), x1 = ex(varPc1[i]), y1 = ey(varPc2[i]);
        var a = Math.atan2(y1 - y0, x1 - x0), h = 9, s = 0.42;
        return `M${x0},${y0}L${x1},${y1}` +
            `M${x1 - h * Math.cos(a - s)},${y1 - h * Math.sin(a - s)}L${x1},${y1}` +
            `L${x1 - h * Math.cos(a + s)},${y1 - h * Math.sin(a + s)}`;
    });
inset.selectAll('.vname').data(idx).enter().append('text')
    .attr('x', i => ex(varLabelX[i])).attr('y', i => ey(varLabelY[i]))
    .attr('dy', '0.35em').attr('text-anchor', 'middle')
    .attr('font-size', 15).attr('fill', '#222')
    .text(i => varNames[i]);
inset.append('text').attr('x', 484).attr('y', 338).text('E').attr('font-size', 32).attr('fill', '#000');

</script>
</body>
</html>
